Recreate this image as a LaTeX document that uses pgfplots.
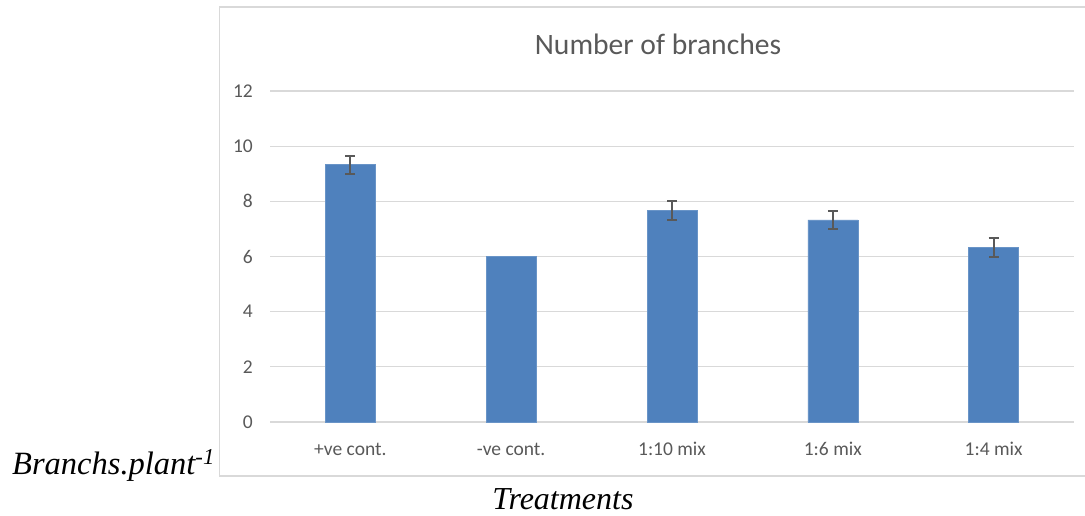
\documentclass[border=0pt]{standalone}
\usepackage{fontspec}
\setmainfont{Carlito}
\newfontfamily\timesfont{Liberation Serif}
\usepackage{pgfplots}
\pgfplotsset{compat=1.18}
\definecolor{barblue}{HTML}{4F81BD}
\definecolor{txtgray}{HTML}{595959}
\definecolor{gridgray}{HTML}{D9D9D9}
\begin{document}
\begin{tikzpicture}[x=1pt,y=1pt]
\useasboundingbox (0,0) rectangle (1085,-516);
% chart area frame (right edge is cut off in the reference)
\draw[gridgray, line width=1.2pt] (1086,-7) -- (219.5,-7) -- (219.5,-476) -- (1086,-476);
\begin{axis}[
  at={(270pt,-422pt)}, anchor=south west,
  scale only axis, width=804pt, height=331pt,
  xmin=-0.5, xmax=4.5, ymin=0, ymax=12,
  ytick={0,2,...,12}, xtick={0,...,4},
  xticklabels={+ve cont.,-ve cont.,1:10 mix,1:6 mix,1:4 mix},
  ymajorgrids, grid style={gridgray, line width=1.3pt},
  axis line style={draw=none}, major tick length=0pt,
  tick label style={font=\fontsize{19.5}{22}\selectfont, text=txtgray},
  /pgf/number format/assume math mode=true,
  yticklabel style={anchor=east, inner sep=0pt, xshift=-17pt},
  xticklabel style={anchor=base, inner sep=0pt, yshift=-33pt},
  clip=false,
]
\addplot[ybar, bar shift=0pt, bar width=50pt, fill=barblue, draw=barblue!85!white]
  coordinates {(0,9.33) (1,6) (2,7.67) (3,7.33) (4,6.33)};
\addplot[draw=none, mark=none, forget plot,
  error bars/.cd, y dir=both, y explicit,
  error bar style={txtgray, line width=2pt},
  error mark options={rotate=90, mark size=5pt, txtgray, line width=2pt}]
  coordinates {(0,9.33) +- (0,0.33) (2,7.67) +- (0,0.33) (3,7.33) +- (0,0.33) (4,6.33) +- (0,0.33)};
\end{axis}
\node[anchor=base, inner sep=0pt, text=txtgray, font=\fontsize{29.6}{32}\selectfont] at (658,-55) {Number of branches};
\node[anchor=base west, inner sep=0pt, font=\timesfont\itshape\fontsize{32.5}{36}\selectfont] at (12,-474) {Branchs.plant\textsuperscript{-1}};
\node[anchor=base, inner sep=0pt, font=\timesfont\itshape\fontsize{32}{36}\selectfont] at (563,-509) {Treatments};
\end{tikzpicture}
\end{document}
